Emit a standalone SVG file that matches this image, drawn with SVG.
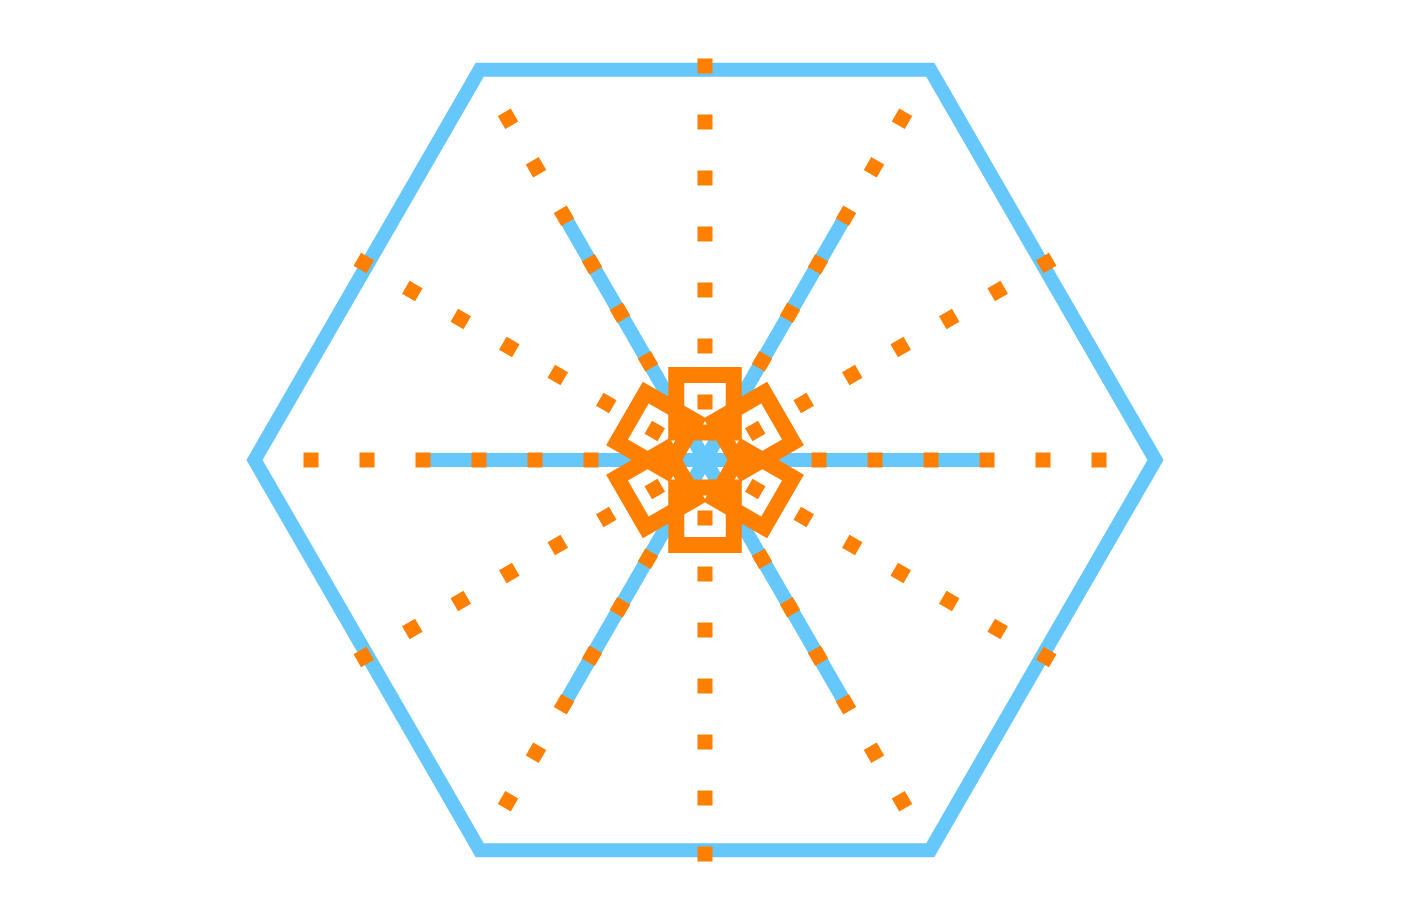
<svg xmlns="http://www.w3.org/2000/svg" width="1410" height="920" viewBox="0 0 1410 920">
<style>
.blue{fill:none;stroke:#66c8fa;stroke-width:14;stroke-linejoin:miter;stroke-miterlimit:10}
.sqfill{fill:#ffffff;stroke:none}
.sqline{fill:none;stroke:#ff7f00;stroke-width:16}
.dots{fill:none;stroke:#ff7f00;stroke-width:15;stroke-dasharray:15 41}
</style>
<defs>
<rect id="sq" x="676.25" y="375" width="57.5" height="57.5"/>
<line id="ray" x1="705" y1="409.5" x2="705" y2="58.5"/>
</defs>
<rect width="1410" height="920" fill="#ffffff"/>
<g id="hexagon">
<polygon class="blue" points="1155.5,460 930.25,69.86 479.75,69.86 254.5,460 479.75,850.14 930.25,850.14"/>
</g>
<g id="spokes" class="blue">
<line x1="423" y1="460" x2="987" y2="460"/>
<line x1="564" y1="215.8" x2="846" y2="704.2"/>
<line x1="846" y1="215.8" x2="564" y2="704.2"/>
</g>
<g id="square-fills" class="sqfill">
<use href="#sq"/>
<use href="#sq" transform="rotate(60 705 460)"/>
<use href="#sq" transform="rotate(120 705 460)"/>
<use href="#sq" transform="rotate(180 705 460)"/>
<use href="#sq" transform="rotate(240 705 460)"/>
<use href="#sq" transform="rotate(300 705 460)"/>
</g>
<g id="squares" class="sqline">
<use href="#sq"/>
<use href="#sq" transform="rotate(60 705 460)"/>
<use href="#sq" transform="rotate(120 705 460)"/>
<use href="#sq" transform="rotate(180 705 460)"/>
<use href="#sq" transform="rotate(240 705 460)"/>
<use href="#sq" transform="rotate(300 705 460)"/>
</g>
<g id="dotted-rays" class="dots">
<use href="#ray"/>
<use href="#ray" transform="rotate(30 705 460)"/>
<use href="#ray" transform="rotate(60 705 460)"/>
<use href="#ray" transform="rotate(90 705 460)"/>
<use href="#ray" transform="rotate(120 705 460)"/>
<use href="#ray" transform="rotate(150 705 460)"/>
<use href="#ray" transform="rotate(180 705 460)"/>
<use href="#ray" transform="rotate(210 705 460)"/>
<use href="#ray" transform="rotate(240 705 460)"/>
<use href="#ray" transform="rotate(270 705 460)"/>
<use href="#ray" transform="rotate(300 705 460)"/>
<use href="#ray" transform="rotate(330 705 460)"/>
</g>
</svg>
